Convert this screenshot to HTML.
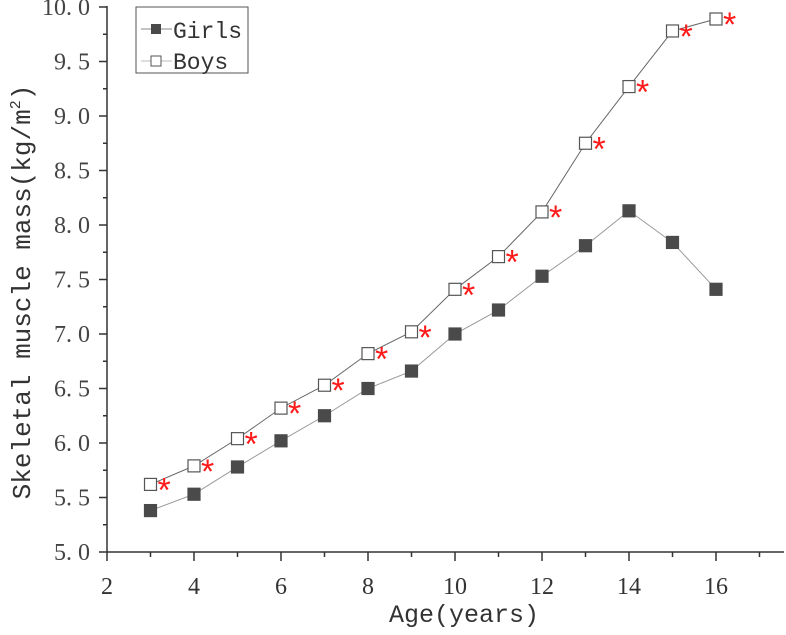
<!DOCTYPE html>
<html><head><meta charset="utf-8"><style>
html,body{margin:0;padding:0;background:#fff;}
svg{display:block;font-family:"Liberation Serif","Noto Serif CJK SC",serif;}
.mono{font-family:"Liberation Mono","Noto Sans CJK SC",monospace;}
</style></head><body>
<svg id="chart" width="786" height="635" viewBox="0 0 786 635" xmlns="http://www.w3.org/2000/svg">
<g id="axes"></g><g id="series"></g>
<text class="mono" x="464" y="622" font-size="25" text-anchor="middle" fill="#333">Age(years)</text>
<text class="mono" transform="translate(30,292) rotate(-90)" font-size="26" text-anchor="middle" fill="#333">Skeletal muscle mass(kg/m<tspan font-size="15" dy="-10">2</tspan><tspan dy="10">)</tspan></text>
<g>
<rect x="136" y="7" width="112" height="66" fill="#fff" stroke="#555" stroke-width="1"/>
<line x1="141" y1="29" x2="172" y2="29" stroke="#888"/>
<rect x="151" y="24" width="10" height="10" fill="#4a4a4a"/>
<text class="mono" x="173" y="38" font-size="23" fill="#333">Girls</text>
<line x1="141" y1="61" x2="172" y2="61" stroke="#bbb"/>
<rect x="151" y="56" width="10" height="10" fill="#fff" stroke="#555"/>
<text class="mono" x="173" y="69" font-size="23" fill="#333">Boys</text>
</g>
</svg>
<script>
const ages=[3,4,5,6,7,8,9,10,11,12,13,14,15,16];
const girls=[5.38,5.53,5.78,6.02,6.25,6.50,6.66,7.00,7.22,7.53,7.81,8.13,7.84,7.41];
const boys=[5.62,5.79,6.04,6.32,6.53,6.82,7.02,7.41,7.71,8.12,8.75,9.27,9.78,9.89];
const xTicks=[2,4,6,8,10,12,14,16];
const yTicks=[5.0,5.5,6.0,6.5,7.0,7.5,8.0,8.5,9.0,9.5,10.0];
const NS="http://www.w3.org/2000/svg";
const X=v=>107+(v-2)*43.5;
const Y=v=>552-(v-5)*109;
function mk(t,a,p){const e=document.createElementNS(NS,t);for(const k in a)e.setAttribute(k,a[k]);p.appendChild(e);return e;}
const ax=document.getElementById('axes'),se=document.getElementById('series');
let xl=mk('line',{x1:107,y1:552,x2:784,y2:552,stroke:'#333','stroke-width':1.5},ax);


let yl=mk('line',{x1:107,y1:552,x2:107,y2:6,stroke:'#333','stroke-width':1.5},ax);


for(let v=2;v<=17;v++){const major=v%2===0;mk('line',{x1:X(v),y1:552,x2:X(v),y2:major?561:557,stroke:'#333','stroke-width':1.5},ax);}
xTicks.forEach(v=>{const t=mk('text',{x:X(v),y:594,'font-size':24,'text-anchor':'middle',fill:'#333'},ax);t.textContent=v;

});
for(let v=5;v<=10.001;v+=0.25){const major=Math.abs(v*2-Math.round(v*2))<1e-6;mk('line',{x1:107,y1:Y(v),x2:major?99:103,y2:Y(v),stroke:'#333','stroke-width':1.5},ax);}
yTicks.forEach(v=>{const t=mk('text',{x:90,y:Y(v)+8,'font-size':24,'text-anchor':'end',fill:'#444'},ax);t.textContent=v.toFixed(1).replace('.','. ');

});
function series(vals,name,fill,lineCol,star){
 const pts=vals.map((v,i)=>X(ages[i])+','+Y(v)).join(' ');
 const pl=mk('polyline',{points:pts,fill:'none',stroke:lineCol,'stroke-width':1},se);
 
 
 vals.forEach((v,i)=>{const r=mk('rect',{x:X(ages[i])-6,y:Y(v)-6,width:12,height:12,fill:fill,stroke:fill==='#fff'?'#555':'#4a4a4a','stroke-width':1.2},se);
 
 
 if(star){const s=mk('text',{x:X(ages[i])+7,y:Y(v)+17,'font-size':34,fill:'#ff1a1a','font-family':'Liberation Sans, sans-serif'},se);s.textContent='*';
 
 }});
}
series(girls,'girls','#4a4a4a','#999',false);
series(boys,'boys','#fff','#666',true);
</script>
</body></html>
